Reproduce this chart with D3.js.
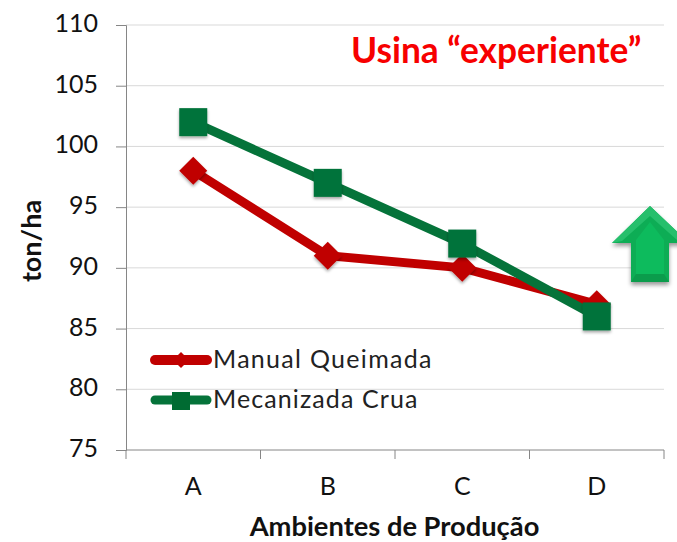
<!DOCTYPE html>
<html>
<head>
<meta charset="utf-8">
<script src="https://cdn.jsdelivr.net/npm/d3@7"></script>
<style>
  html, body { margin: 0; padding: 0; background: #fff; }
  text { font-family: Lato, "Open Sans", sans-serif; }
</style>
</head>
<body>
<div id="chart"></div>
<script>
const categories = ["A", "B", "C", "D"];
const yTicks = [75, 80, 85, 90, 95, 100, 105, 110];
const manualQueimada = [98, 91, 90, 87];
const mecanizadaCrua = [102, 97, 92, 86];

const width = 677, height = 542;
const plot = { left: 126, right: 664, top: 25, bottom: 450 };
const red = "#c00000", green = "#05733a";

const svg = d3.select("#chart").append("svg")
  .attr("width", width).attr("height", height).style("display", "block");

// soft shadows for the markers and the arrow
const defs = svg.append("defs");
const markerShadow = defs.append("filter").attr("id", "markerShadow")
  .attr("x", "-30%").attr("y", "-30%").attr("width", "160%").attr("height", "160%");
markerShadow.append("feDropShadow").attr("dx", 0).attr("dy", 2).attr("stdDeviation", 1.5)
  .attr("flood-color", "#000").attr("flood-opacity", 0.35);
const arrowShadow = defs.append("filter").attr("id", "arrowShadow")
  .attr("x", "-20%").attr("y", "-20%").attr("width", "140%").attr("height", "140%");
arrowShadow.append("feDropShadow").attr("dx", 0).attr("dy", 3).attr("stdDeviation", 2)
  .attr("flood-color", "#000").attr("flood-opacity", 0.4);

const x = d3.scaleBand().domain(categories).range([plot.left, plot.right]);
const y = d3.scaleLinear().domain([75, 110]).range([plot.bottom, plot.top]);
const xMid = i => x(categories[i]) + x.bandwidth() / 2;

// gridlines
svg.append("g").selectAll("line")
  .data(yTicks.slice(1))
  .enter().append("line")
  .attr("x1", plot.left).attr("x2", plot.right)
  .attr("y1", d => y(d)).attr("y2", d => y(d))
  .attr("stroke", "#d9d9d9").attr("stroke-width", 1);

// axes
const yAxis = svg.append("g").attr("transform", `translate(${plot.left},0)`)
  .call(d3.axisLeft(y).tickValues(yTicks).tickSize(10).tickPadding(18));
const xAxis = svg.append("g").attr("transform", `translate(0,${plot.bottom})`)
  .call(d3.axisBottom(x).tickSize(0).tickPadding(27));
yAxis.selectAll("path,line").attr("stroke", "#868686");
xAxis.select("path").attr("stroke", "#868686").attr("d", `M${plot.left},0H${plot.right}`);
yAxis.selectAll("text").style("font-size", "25px").attr("fill", "#111").attr("y", -1.5);
xAxis.selectAll("text").style("font-size", "25px").attr("fill", "#111");

// x tick marks sit between categories
svg.append("g").selectAll("line")
  .data(d3.range(categories.length + 1))
  .enter().append("line")
  .attr("x1", i => plot.left + i * x.bandwidth())
  .attr("x2", i => plot.left + i * x.bandwidth())
  .attr("y1", plot.bottom).attr("y2", plot.bottom + 9)
  .attr("stroke", "#868686");

// series
const line = d3.line().x((d, i) => xMid(i)).y(d => y(d));

svg.append("path").datum(manualQueimada)
  .attr("d", line).attr("fill", "none").attr("stroke", red).attr("stroke-width", 9);
svg.append("g").selectAll("path")
  .data(manualQueimada)
  .enter().append("path")
  .attr("transform", (d, i) => `translate(${xMid(i)},${y(d)})`)
  .attr("d", "M0,-14L14,0L0,14L-14,0Z")
  .attr("fill", red).attr("filter", "url(#markerShadow)");

svg.append("path").datum(mecanizadaCrua)
  .attr("d", line).attr("fill", "none").attr("stroke", green).attr("stroke-width", 9);
svg.append("g").selectAll("rect")
  .data(mecanizadaCrua)
  .enter().append("rect")
  .attr("x", (d, i) => xMid(i) - 14)
  .attr("y", d => y(d) - 14)
  .attr("width", 28).attr("height", 28)
  .attr("fill", green).attr("filter", "url(#markerShadow)");

// legend
const legend = svg.append("g");
legend.append("line").attr("x1", 155).attr("x2", 207).attr("y1", 360).attr("y2", 360)
  .attr("stroke", red).attr("stroke-width", 10).attr("stroke-linecap", "round");
legend.append("path").attr("transform", "translate(181,360)")
  .attr("d", "M0,-8L8,0L0,8L-8,0Z").attr("fill", red);
legend.append("text").attr("x", 213).attr("y", 368).text("Manual Queimada")
  .style("font-size", "25px").style("letter-spacing", "1.3px").attr("fill", "#222");
legend.append("line").attr("x1", 155).attr("x2", 207).attr("y1", 400).attr("y2", 400)
  .attr("stroke", green).attr("stroke-width", 9).attr("stroke-linecap", "round");
legend.append("rect").attr("x", 172).attr("y", 392).attr("width", 18).attr("height", 18).attr("fill", "#006b32");
legend.append("text").attr("x", 213).attr("y", 408).text("Mecanizada Crua")
  .style("font-size", "25px").style("letter-spacing", "1.1px").attr("fill", "#222");

// axis titles
svg.append("text").attr("x", 394.5).attr("y", 536).attr("text-anchor", "middle")
  .text("Ambientes de Produção").style("font-size", "27.3px").style("font-weight", "bold").attr("fill", "#111");
svg.append("text").attr("transform", "translate(41,241) rotate(-90)").attr("text-anchor", "middle")
  .text("ton/ha").style("font-size", "27px").style("font-weight", "bold").attr("fill", "#111");

// annotation
svg.append("text").attr("x", 351).attr("y", 63)
  .text("Usina “experiente”").style("font-size", "35.3px").style("font-weight", "bold").attr("fill", "#f70000");

// up arrow with bevel
const arrow = svg.append("g");
arrow.append("path")
  .attr("d", "M650,206L689,243H669V282H631V243H612Z")
  .attr("fill", "#0ead55").attr("filter", "url(#arrowShadow)");
arrow.append("path")
  .attr("d", "M650,206L689,243L678,241L650,216L622,241L612,243Z")
  .attr("fill", "#26bf6c");
arrow.append("path")
  .attr("d", "M636,240L650,222L664,240L664,274L636,274Z")
  .attr("fill", "#0dbb5d");
arrow.append("path")
  .attr("d", "M636,274H664L669,282H631Z")
  .attr("fill", "#0b9c4c");
</script>
</body>
</html>
